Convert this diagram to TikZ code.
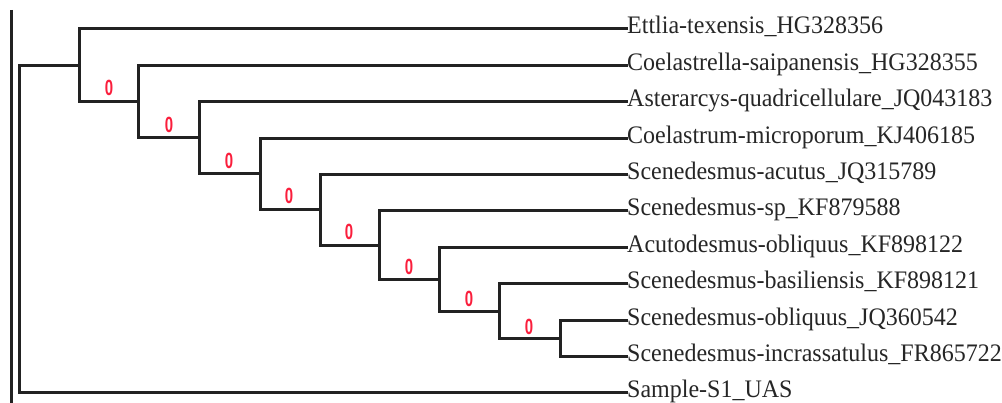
\documentclass[tikz,border=0pt]{standalone}
\usepackage{fontspec}
\setmainfont{Liberation Serif}
\newfontfamily\supfont{Liberation Sans}
\definecolor{branch}{RGB}{34,34,34}
\definecolor{support}{RGB}{250,30,60}
\begin{document}
\begin{tikzpicture}[x=1pt,y=-1pt,
  taxon/.style={anchor=base west,inner sep=0pt,xshift=1pt,yshift=-5pt,
    font=\fontsize{24}{24}\selectfont,text=black!85,yscale=1.05},
  bval/.style={inner sep=0pt,text=support,
    font=\supfont\bfseries\fontsize{22}{22}\selectfont,xscale=0.68},
  edge/.style={draw=branch,line width=3pt,line cap=rect}]
\useasboundingbox (0,0) rectangle (1002,403);

% leaf tips
\foreach \i/\yy in {1/29,2/65.4,3/101.8,4/138.2,5/174.6,6/211,7/247.4,8/283.8,9/320.2,10/356.6,11/393}
  \coordinate (t\i) at (626,\yy);

% internal nodes (midpoint of their children)
\coordinate (n9) at (560,338.4);
\coordinate (n8) at (499,311.1);
\coordinate (n7) at (439,279.25);
\coordinate (n6) at (379,245.1);
\coordinate (n5) at (320,209.9);
\coordinate (n4) at (260,174.0);
\coordinate (n3) at (199,137.9);
\coordinate (n2) at (138,101.7);
\coordinate (n1) at (79,65.3);
\coordinate (root) at (19,229);

% scale bar on the left edge
\coordinate (barTop) at (11,10);
\coordinate (barBot) at (11,403);
\draw[edge,line cap=butt] (barTop) -- (barBot);

% branches
\draw[edge] (root) |- (n1);
\draw[edge] (root) |- (t11);
\draw[edge] (n1) |- (t1);
\draw[edge] (n1) |- (n2);
\draw[edge] (n2) |- (t2);
\draw[edge] (n2) |- (n3);
\draw[edge] (n3) |- (t3);
\draw[edge] (n3) |- (n4);
\draw[edge] (n4) |- (t4);
\draw[edge] (n4) |- (n5);
\draw[edge] (n5) |- (t5);
\draw[edge] (n5) |- (n6);
\draw[edge] (n6) |- (t6);
\draw[edge] (n6) |- (n7);
\draw[edge] (n7) |- (t7);
\draw[edge] (n7) |- (n8);
\draw[edge] (n8) |- (t8);
\draw[edge] (n8) |- (n9);
\draw[edge] (n9) |- (t9);
\draw[edge] (n9) |- (t10);

% taxon labels
\node[taxon] (l1) at (t1) {Ettlia-texensis\_HG328356};
\node[taxon] (l2) at (t2) {Coelastrella-saipanensis\_HG328355};
\node[taxon] (l3) at (t3) {Asterarcys-quadricellulare\_JQ043183};
\node[taxon] (l4) at (t4) {Coelastrum-microporum\_KJ406185};
\node[taxon] (l5) at (t5) {Scenedesmus-acutus\_JQ315789};
\node[taxon] (l6) at (t6) {Scenedesmus-sp\_KF879588};
\node[taxon] (l7) at (t7) {Acutodesmus-obliquus\_KF898122};
\node[taxon] (l8) at (t8) {Scenedesmus-basiliensis\_KF898121};
\node[taxon] (l9) at (t9) {Scenedesmus-obliquus\_JQ360542};
\node[taxon] (l10) at (t10) {Scenedesmus-incrassatulus\_FR865722};
\node[taxon] (l11) at (t11) {Sample-S1\_UAS};

% bootstrap values above the branches
\node[bval] (b2) at (109,88) {0};
\node[bval] (b3) at (169,125) {0};
\node[bval] (b4) at (229,161) {0};
\node[bval] (b5) at (289,196) {0};
\node[bval] (b6) at (349,232) {0};
\node[bval] (b7) at (409,267) {0};
\node[bval] (b8) at (469,299) {0};
\node[bval] (b9) at (529,327) {0};
\end{tikzpicture}
\end{document}
